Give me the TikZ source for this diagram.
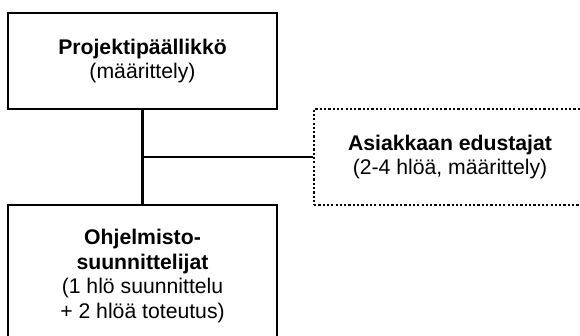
\documentclass[tikz,border=0pt]{standalone}
\usepackage{fontspec}
\setmainfont{Liberation Sans}
\begin{document}
\begin{tikzpicture}[x=1pt,y=-1pt,
  box/.style={draw=black, line width=2.4pt, rectangle, align=center,
    inner sep=0pt, font=\fontsize{21.2}{24.5}\selectfont},
  dottedbox/.style={box, line width=2.2pt, dash pattern=on 2.2pt off 2.1pt},
  link/.style={draw=black, line width=2.4pt}]
  \clip (0,0) rectangle (580,336);
  \useasboundingbox (0,0) rectangle (580,336);
  \node[box, minimum width=269pt, minimum height=96pt] (pm) at (142.5,61)
    {\textbf{Projektipäällikkö}\\(määrittely)};
  \node[dottedbox, minimum width=272pt, minimum height=96pt] (cust) at (450,157)
    {\textbf{Asiakkaan edustajat}\\(2-4 hlöä, määrittely)};
  \node[box, minimum width=269pt, minimum height=142pt] (dev) at (142.5,276)
    {\textbf{Ohjelmisto-}\\\textbf{suunnittelijat}\\(1 hlö suunnittelu\\+ 2 hlöä toteutus)};
  \draw[link] (pm.south) -- (dev.north);
  \coordinate (branch) at (pm.south |- cust.west);
  \draw[link] (branch) -- (cust.west);
\end{tikzpicture}
\end{document}
